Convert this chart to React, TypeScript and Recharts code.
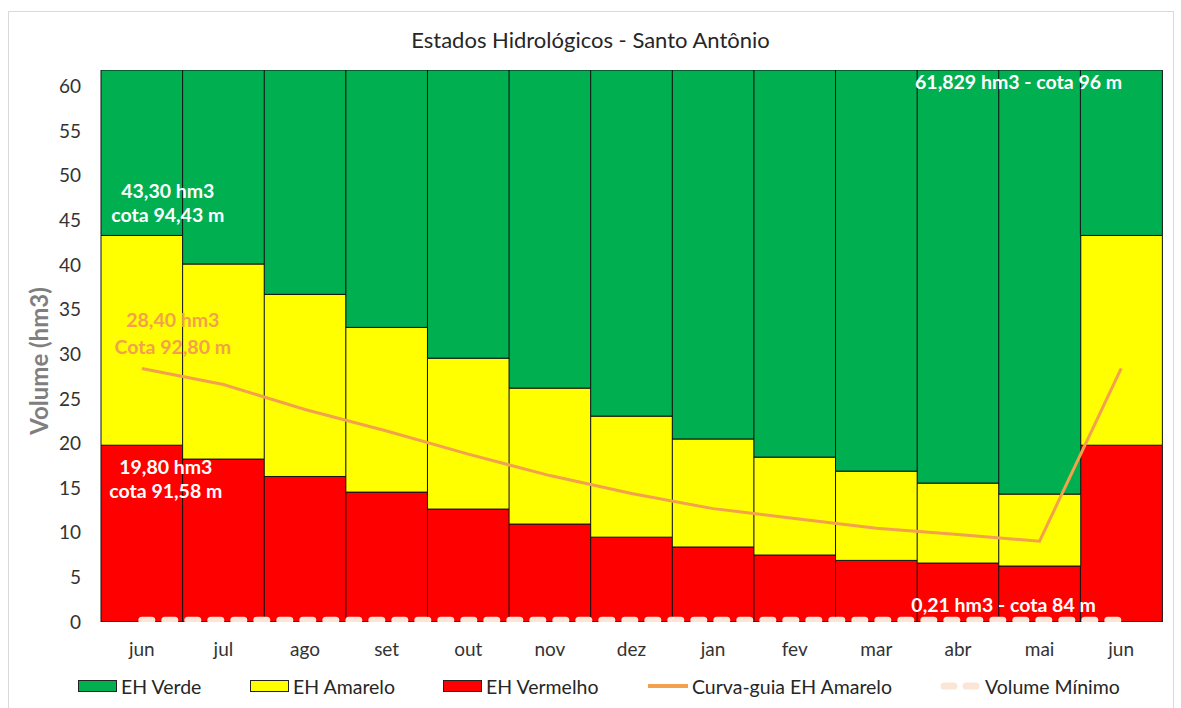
import { ComposedChart, Bar, Line, XAxis, YAxis, Legend, ReferenceDot } from 'recharts';

// meses do ciclo (jun a jun)
const meses = ['jun', 'jul', 'ago', 'set', 'out', 'nov', 'dez', 'jan', 'fev', 'mar', 'abr', 'mai', 'jun'];

// volumes empilhados (hm3)
const ehVermelho = [19.8, 18.25, 16.3, 14.55, 12.65, 10.97, 9.5, 8.4, 7.5, 6.9, 6.6, 6.27, 19.8];
const ehAmarelo = [23.5, 21.85, 20.4, 18.45, 16.9, 15.23, 13.56, 12.1, 10.97, 10.0, 8.96, 8.06, 23.5];
const ehVerde = [18.529, 21.729, 25.129, 28.829, 32.279, 35.629, 38.769, 41.329, 43.359, 44.929, 46.269, 47.499, 18.529];
const curvaGuia = [28.4, 26.6, 23.8, 21.4, 18.8, 16.4, 14.4, 12.7, 11.6, 10.5, 9.8, 9.05, 28.4];
const volumeMinimo = [0.21, 0.21, 0.21, 0.21, 0.21, 0.21, 0.21, 0.21, 0.21, 0.21, 0.21, 0.21, 0.21];

const volumeMax = 61.829;
const yTicks = [0, 5, 10, 15, 20, 25, 30, 35, 40, 45, 50, 55, 60];

const data = meses.map((m, i) => ({
  idx: i,
  vermelho: ehVermelho[i],
  amarelo: ehAmarelo[i],
  verde: ehVerde[i],
  curva: curvaGuia[i],
  minimo: volumeMinimo[i],
}));

const FONT = 'Lato, "Open Sans", sans-serif';
const VERDE = '#00B050';
const AMARELO = '#FFFF00';
const VERMELHO = '#FF0000';
const LARANJA = '#F3A14C';
const PESSEGO = '#FBE5D6';

const legendItems = [
  { label: 'EH Verde', kind: 'box', color: VERDE, left: 78 },
  { label: 'EH Amarelo', kind: 'box', color: AMARELO, left: 250 },
  { label: 'EH Vermelho', kind: 'box', color: VERMELHO, left: 443 },
  { label: 'Curva-guia EH Amarelo', kind: 'line', color: LARANJA, left: 648 },
  { label: 'Volume Mínimo', kind: 'dash', color: PESSEGO, left: 940 },
];

function LegendaCustom() {
  return (
    <div style={{ position: 'relative', height: 24, fontFamily: FONT, fontSize: 19.5, color: '#262626' }}>
      {legendItems.map((it) => (
        <div key={it.label} style={{ position: 'absolute', left: it.left, top: 0, height: 24, display: 'flex', alignItems: 'center', whiteSpace: 'nowrap' }}>
          {it.kind === 'box' && (
            <span style={{ display: 'inline-block', width: 39, height: 12, background: it.color, border: '1px solid #222', boxSizing: 'border-box', marginRight: 4 }} />
          )}
          {it.kind === 'line' && (
            <span style={{ display: 'inline-block', width: 40, height: 4, background: it.color, marginRight: 4 }} />
          )}
          {it.kind === 'dash' && (
            <svg width={42} height={10} style={{ marginRight: 3 }}>
              <line x1={4} y1={5} x2={40} y2={5} stroke={it.color} strokeWidth={7} strokeLinecap="round" strokeDasharray="10 12" />
            </svg>
          )}
          <span>{it.label}</span>
        </div>
      ))}
    </div>
  );
}

function anotacao(linhas: string[], cor: string, dx: number, dy: number, lineGap = 24) {
  return (props: any) => {
    const vb = props.viewBox || {};
    const cx = (vb.x ?? 0) + (vb.width ?? 0) / 2 + dx;
    const cy = (vb.y ?? 0) + (vb.height ?? 0) / 2 + dy;
    return (
      <text x={cx} y={cy} textAnchor="middle" fill={cor} fontFamily={FONT} fontWeight={700} fontSize={19.5}>
        {linhas.map((l, i) => (
          <tspan key={i} x={cx} dy={i === 0 ? 0 : lineGap}>{l}</tspan>
        ))}
      </text>
    );
  };
}

function RotuloEixoY(props: any) {
  const vb = props.viewBox || {};
  const cx = 38;
  const cy = (vb.y ?? 0) + (vb.height ?? 0) / 2 + 15;
  return (
    <text x={cx} y={cy} transform={`rotate(-90, ${cx}, ${cy})`} textAnchor="middle" dominantBaseline="central"
      fill="#7f7f7f" fontFamily={FONT} fontWeight={700} fontSize={24}>
      Volume (hm3)
    </text>
  );
}

export default function App() {
  return (
    <div style={{ position: 'absolute', left: 0, top: 0, width: 1181, height: 708, background: '#fff' }}>
      <div style={{ position: 'absolute', left: 8, top: 11, width: 1166, height: 697, border: '1px solid #d9d9d9', borderBottom: 'none', boxSizing: 'border-box' }} />
      <div style={{ position: 'absolute', left: 0, top: 26, width: 1181, textAlign: 'center', fontFamily: FONT, fontSize: 22, color: '#262626' }}>
        Estados Hidrológicos - Santo Antônio
      </div>
      <ComposedChart
        width={1181}
        height={708}
        data={data}
        margin={{ top: 70, right: 19, bottom: 32, left: 0 }}
        barCategoryGap={0}
        barGap={0}
        style={{ position: 'absolute', left: 0, top: 0 }}
      >
        <XAxis
          dataKey="idx"
          type="category"
          tickFormatter={(v: number) => meses[v]}
          axisLine={false}
          tickLine={false}
          tickSize={0}
          tickMargin={21}
          height={30}
          tick={{ fill: '#333', fontSize: 19, fontFamily: FONT }}
        />
        <YAxis
          domain={[0, volumeMax]}
          ticks={yTicks}
          allowDataOverflow
          width={101}
          axisLine={false}
          tickLine={false}
          tickSize={0}
          tickMargin={20}
          tick={{ fill: '#333', fontSize: 19, fontFamily: FONT }}
          label={<RotuloEixoY />}
        />
        <Legend verticalAlign="bottom" wrapperStyle={{ bottom: 10, left: 0, width: 1181 }} content={() => <LegendaCustom />} />
        <Bar dataKey="vermelho" stackId="eh" fill={VERMELHO} stroke="#111" strokeWidth={1} isAnimationActive={false} />
        <Bar dataKey="amarelo" stackId="eh" fill={AMARELO} stroke="#111" strokeWidth={1} isAnimationActive={false} />
        <Bar dataKey="verde" stackId="eh" fill={VERDE} stroke="#111" strokeWidth={1} isAnimationActive={false} />
        <Line dataKey="minimo" type="linear" stroke={PESSEGO} strokeWidth={7} strokeLinecap="round" strokeDasharray="10 13" dot={false} isAnimationActive={false} />
        <Line dataKey="curva" type="linear" stroke={LARANJA} strokeWidth={3} dot={false} isAnimationActive={false} />

        <ReferenceDot x={0} y={ehVermelho[0] + ehAmarelo[0]} r={0} ifOverflow="visible" label={anotacao(['43,30 hm3', 'cota 94,43 m'], '#fff', 26, -37)} />
        <ReferenceDot x={0} y={curvaGuia[0]} r={0} ifOverflow="visible" label={anotacao(['28,40 hm3', 'Cota 92,80 m'], LARANJA, 31, -41, 27)} />
        <ReferenceDot x={0} y={ehVermelho[0]} r={0} ifOverflow="visible" label={anotacao(['19,80 hm3', 'cota 91,58 m'], '#fff', 24, 29)} />
        <ReferenceDot x={11} y={volumeMax} r={0} ifOverflow="visible" label={anotacao(['61,829 hm3 - cota 96 m'], '#fff', -21, 19)} />
        <ReferenceDot x={11} y={volumeMinimo[11]} r={0} ifOverflow="visible" label={anotacao(['0,21 hm3 - cota 84 m'], '#fff', -36, -8)} />
      </ComposedChart>
    </div>
  );
}
